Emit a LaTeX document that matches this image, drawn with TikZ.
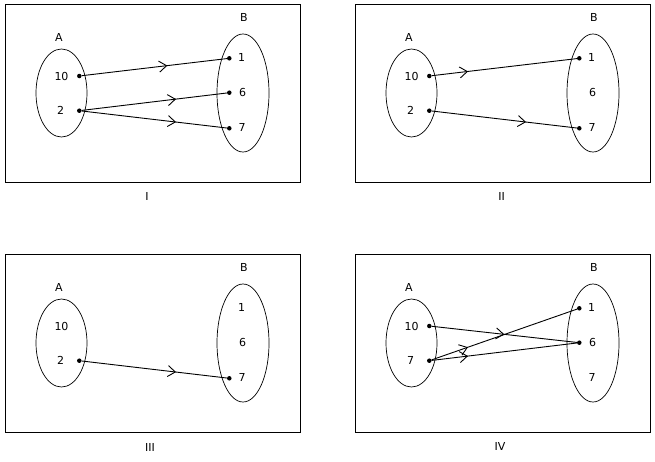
\documentclass[tikz,border=0pt]{standalone}
\usepackage{fontspec}
\setmainfont{DejaVu Sans}
\usetikzlibrary{arrows.meta,decorations.markings}

\tikzstyle{pixfig}=[x=1pt,y=-1pt,font=\fontsize{11}{13}\selectfont]
\tikzstyle{frame}=[line width=1pt]
\tikzstyle{set}=[line width=0.7pt]
\tikzstyle{dot}=[circle,fill,inner sep=0pt,minimum size=4.5pt]
\tikzset{map/.style={line width=0.9pt,postaction={decorate},
  decoration={markings,mark=at position #1 with
    {\arrow{Straight Barb[length=7.5pt,width=11pt,line width=0.9pt]}}}}}

\begin{document}
\begin{tikzpicture}[style=pixfig]
\useasboundingbox (0,0) rectangle (655,461);

% I
\begin{scope}
\draw[frame] (5,4) rectangle (300,182);
\draw[set] (61.5,93) ellipse (25.5 and 44);
\draw[set] (243,93) ellipse (26 and 59);
\node (IA) at (59,37) {A};
\node (IB) at (244,17) {B};
\node (In10) at (61.5,76) {10};
\node (In2) at (60.5,110.5) {2};
\node (Im1) at (241.5,57.3) {1};
\node (Im6) at (242.5,92) {6};
\node (Im7) at (242,127.3) {7};
\node[dot] (IA10) at (79.3,76) {};
\node[dot] (IA2) at (79.3,110.7) {};
\node[dot] (IB1) at (229.3,58.3) {};
\node[dot] (IB6) at (229.3,92.7) {};
\node[dot] (IB7) at (229.3,128.3) {};
\draw[map=0.59] (IA10) -- (IB1);
\draw[map=0.65] (IA2) -- (IB6);
\draw[map=0.65] (IA2) -- (IB7);
\node (Ilab) at (147,196.5) {I};
\end{scope}

% II
\begin{scope}[shift={(350,0)}]
\draw[frame] (5,4) rectangle (300,182);
\draw[set] (61.5,93) ellipse (25.5 and 44);
\draw[set] (243,93) ellipse (26 and 59);
\node (IIA) at (59,37) {A};
\node (IIB) at (244,17) {B};
\node (IIn10) at (61.5,76) {10};
\node (IIn2) at (60.5,110.5) {2};
\node (IIm1) at (241.5,57.3) {1};
\node (IIm6) at (242.5,92) {6};
\node (IIm7) at (242,127.3) {7};
\node[dot] (IIA10) at (79.3,76) {};
\node[dot] (IIA2) at (79.3,110.7) {};
\node[dot] (IIB1) at (229.3,58.3) {};
\node[dot] (IIB7) at (229.3,128.3) {};
\draw[map=0.25] (IIA10) -- (IIB1);
\draw[map=0.65] (IIA2) -- (IIB7);
\node (IIlab) at (151.5,196.5) {II};
\end{scope}

% III
\begin{scope}[shift={(0,250)}]
\draw[frame] (5,4) rectangle (300,182);
\draw[set] (61.5,93) ellipse (25.5 and 44);
\draw[set] (243,93) ellipse (26 and 59);
\node (IIIA) at (59,37) {A};
\node (IIIB) at (244,17) {B};
\node (IIIn10) at (61.5,76) {10};
\node (IIIn2) at (60.5,110.5) {2};
\node (IIIm1) at (241.5,57.3) {1};
\node (IIIm6) at (242.5,92) {6};
\node (IIIm7) at (242,127.3) {7};
\node[dot] (IIIA2) at (79.3,110.7) {};
\node[dot] (IIIB7) at (229.3,128.3) {};
\draw[map=0.65] (IIIA2) -- (IIIB7);
\node (IIIlab) at (150,197) {III};
\end{scope}

% IV
\begin{scope}[shift={(350,250)}]
\draw[frame] (5,4) rectangle (300,182);
\draw[set] (61.5,93) ellipse (25.5 and 44);
\draw[set] (243,93) ellipse (26 and 59);
\node (IVA) at (59,37) {A};
\node (IVB) at (244,17) {B};
\node (IVn10) at (61.5,76) {10};
\node (IVn7) at (60.5,110.5) {7};
\node (IVm1) at (241.5,57.3) {1};
\node (IVm6) at (242.5,92) {6};
\node (IVm7) at (242,127.3) {7};
\node[dot] (IVA10) at (79.3,76) {};
\node[dot] (IVA7) at (79.3,110.7) {};
\node[dot] (IVB1) at (229.3,58.3) {};
\node[dot] (IVB6) at (229.3,92.7) {};
\draw[map=0.5] (IVA10) -- (IVB6);
\draw[map=0.25] (IVA7) -- (IVB1);
\draw[map=0.25] (IVA7) -- (IVB6);
\node (IVlab) at (150,196.7) {IV};
\end{scope}
\end{tikzpicture}
\end{document}
